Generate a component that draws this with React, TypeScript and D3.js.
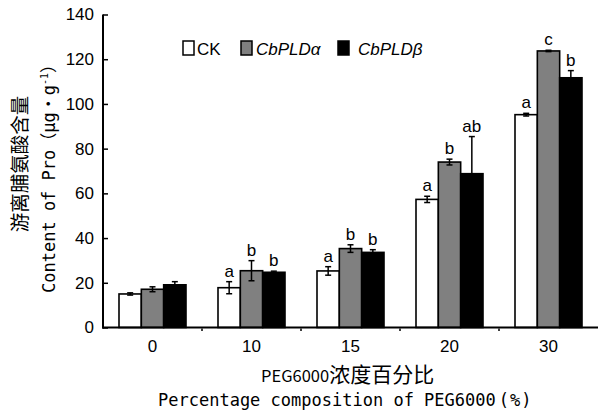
import React, { useRef, useEffect } from "react";
import * as d3 from "d3";

// categories and series
const categories = ["0", "10", "15", "20", "30"];
const seriesNames = ["CK", "CbPLDα", "CbPLDβ"];
const seriesFills = ["#ffffff", "#808080", "#000000"];

// means and error bars
const ckValues = [15.0, 17.8, 25.3, 57.3, 95.2];
const ckErrors = [0.5, 2.7, 1.9, 1.4, 0.6];
const alphaValues = [17.1, 25.4, 35.3, 74.0, 123.7];
const alphaErrors = [1.1, 4.5, 1.7, 1.3, 0.3];
const betaValues = [19.1, 24.7, 33.6, 68.8, 111.7];
const betaErrors = [1.4, 0.5, 1.2, 16.6, 3.2];

// significance letters
const ckLetters = ["", "a", "a", "a", "a"];
const alphaLetters = ["", "b", "b", "b", "c"];
const betaLetters = ["", "b", "b", "ab", "b"];

const yTicks = [0, 20, 40, 60, 80, 100, 120, 140];

const W = 599;
const H = 411;
const latin = "'Liberation Sans', Arial, sans-serif";
const mono = "'DejaVu Sans Mono', 'Liberation Mono', monospace";
const cjk = "'Noto Sans CJK SC', sans-serif";

type Row = { cat: string; series: string; value: number; err: number; letter: string; fill: string };

const App = () => {
  const svgRef = useRef<SVGSVGElement>(null);

  useEffect(() => {
    const svg = d3.select(svgRef.current);
    svg.selectAll("*").remove();

    const x0 = d3.scaleBand<string>().domain(categories).range([103, 598]);
    const x1 = d3.scaleBand<string>().domain(seriesNames).range([16, 83]);
    const y = d3.scaleLinear().domain([0, 140]).range([327.5, 14.5]);

    const values = [ckValues, alphaValues, betaValues];
    const errors = [ckErrors, alphaErrors, betaErrors];
    const letters = [ckLetters, alphaLetters, betaLetters];

    const rows: Row[] = [];
    categories.forEach((c, i) => {
      seriesNames.forEach((s, j) => {
        rows.push({
          cat: c,
          series: s,
          value: values[j][i],
          err: errors[j][i],
          letter: letters[j][i],
          fill: seriesFills[j],
        });
      });
    });

    const cx = (d: Row) => (x0(d.cat) as number) + (x1(d.series) as number) + x1.bandwidth() / 2;

    // bars
    svg.append("g")
      .selectAll("rect")
      .data(rows)
      .enter()
      .append("rect")
      .attr("x", (d) => (x0(d.cat) as number) + (x1(d.series) as number))
      .attr("y", (d) => y(d.value))
      .attr("width", x1.bandwidth())
      .attr("height", (d) => y(0) - y(d.value))
      .attr("fill", (d) => d.fill)
      .attr("stroke", "#000")
      .attr("stroke-width", 1.6);

    // error bars
    const eb = svg.append("g").attr("stroke", "#000").attr("stroke-width", 1.5);
    rows.forEach((d) => {
      const x = cx(d);
      const top = y(d.value + d.err);
      const bot = y(d.value - d.err);
      eb.append("line").attr("x1", x).attr("x2", x).attr("y1", top).attr("y2", bot);
      eb.append("line").attr("x1", x - 3).attr("x2", x + 3).attr("y1", top).attr("y2", top);
      eb.append("line").attr("x1", x - 3).attr("x2", x + 3).attr("y1", bot).attr("y2", bot);
    });

    // letters
    svg.append("g")
      .selectAll("text")
      .data(rows.filter((d) => d.letter !== ""))
      .enter()
      .append("text")
      .attr("x", (d) => cx(d))
      .attr("y", (d) => y(d.value + d.err) - 5)
      .attr("text-anchor", "middle")
      .style("font-family", latin)
      .style("font-size", "17px")
      .text((d) => d.letter);

    // y axis
    const yAxis = svg.append("g")
      .attr("transform", "translate(103,0)")
      .call(d3.axisLeft(y).tickValues(yTicks).tickSizeInner(-5).tickSizeOuter(0).tickPadding(9));
    yAxis.select(".domain").attr("stroke-width", 2).attr("d", "M0,328.5V14.5");
    yAxis.selectAll(".tick line").attr("stroke-width", 1.5);
    yAxis.selectAll(".tick text")
      .style("font-family", latin)
      .style("font-size", "17px")
      .attr("fill", "#000");

    // x axis
    const xAxis = svg.append("g");
    xAxis.append("line")
      .attr("x1", 102).attr("x2", 598)
      .attr("y1", y(0)).attr("y2", y(0))
      .attr("stroke", "#000").attr("stroke-width", 2);
    xAxis.selectAll(".sep")
      .data(categories.slice(1))
      .enter()
      .append("line")
      .attr("x1", (c) => x0(c) as number)
      .attr("x2", (c) => x0(c) as number)
      .attr("y1", y(0) + 1)
      .attr("y2", y(0) + 3.5)
      .attr("stroke", "#000")
      .attr("stroke-width", 1.5);
    xAxis.selectAll(".lbl")
      .data(categories)
      .enter()
      .append("text")
      .attr("x", (c) => (x0(c) as number) + x0.bandwidth() / 2)
      .attr("y", 352)
      .attr("text-anchor", "middle")
      .style("font-family", latin)
      .style("font-size", "17px")
      .text((c) => c);

    // legend
    const legendX = [183, 241, 338];
    const legendTextX = [197, 256, 358];
    const legend = svg.append("g");
    seriesNames.forEach((s, j) => {
      legend.append("rect")
        .attr("x", legendX[j]).attr("y", 41)
        .attr("width", 11).attr("height", 14)
        .attr("fill", seriesFills[j])
        .attr("stroke", "#000").attr("stroke-width", 1.5);
      legend.append("text")
        .attr("x", legendTextX[j]).attr("y", 54.5)
        .style("font-family", latin)
        .style("font-size", "17px")
        .style("font-style", j === 0 ? "normal" : "italic")
        .text(s);
    });

    // y titles
    svg.append("text")
      .attr("transform", "translate(18,164) rotate(-90)")
      .attr("text-anchor", "middle")
      .attr("dominant-baseline", "central")
      .attr("fill", "#000")
      .style("font-family", cjk)
      .style("font-size", "19.5px")
      .text("游离脯氨酸含量");

    const yt = svg.append("text")
      .attr("transform", "translate(55,293) rotate(-90)")
      .style("font-size", "17px");
    yt.append("tspan").style("font-family", mono).text("Content of Pro");
    yt.append("tspan").style("font-family", cjk).text("（");
    yt.append("tspan").style("font-family", mono).text("μg");
    yt.append("tspan").style("font-family", cjk).text("·");
    yt.append("tspan").style("font-family", mono).text("g");
    yt.append("tspan").style("font-family", mono).style("font-size", "10px").attr("dy", -7).text("-1");
    yt.append("tspan").style("font-family", cjk).attr("dy", 7).text("）");

    // x titles
    const xt1 = svg.append("text")
      .attr("x", 261).attr("y", 382)
      .style("font-family", cjk);
    xt1.append("tspan").style("font-size", "16.5px").text("PEG6000");
    xt1.append("tspan").style("font-size", "21px").text("浓度百分比");

    const xt = svg.append("text")
      .attr("x", 158).attr("y", 406)
      .style("font-family", mono)
      .style("font-size", "17px");
    xt.append("tspan").text("Percentage composition of PEG6000");
    xt.append("tspan").attr("dx", 3).text("(");
    xt.append("tspan").attr("dx", 1).text("%");
    xt.append("tspan").attr("dx", 1).text(")");
  }, []);

  return (
    <svg
      ref={svgRef}
      width={W}
      height={H}
      style={{ position: "absolute", left: 0, top: 0, background: "#fff" }}
    />
  );
};

export default App;
